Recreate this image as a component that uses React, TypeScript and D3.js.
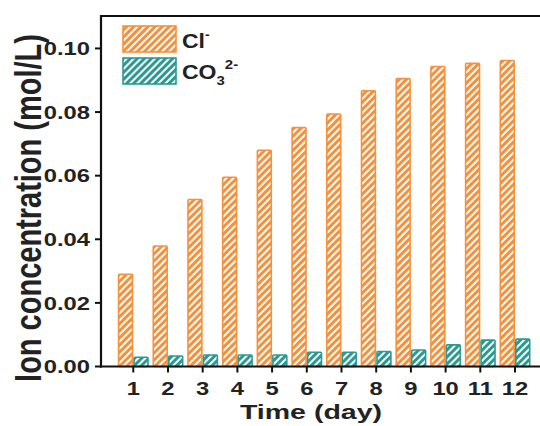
import { useRef, useEffect } from "react";
import * as d3 from "d3";

const days = [1, 2, 3, 4, 5, 6, 7, 8, 9, 10, 11, 12];
const chloride = [0.029, 0.0379, 0.0525, 0.0595, 0.068, 0.0751, 0.0794, 0.0867, 0.0905, 0.0943, 0.0953, 0.0962];
const carbonate = [0.0029, 0.0033, 0.0036, 0.0036, 0.0036, 0.0045, 0.0045, 0.0047, 0.0052, 0.0068, 0.0083, 0.0086];
const yTicks = [0, 0.02, 0.04, 0.06, 0.08, 0.1];

const ORANGE = "#f5913c";
const TEAL = "#2a9a93";

export default function App() {
  const svgRef = useRef<SVGSVGElement>(null);

  useEffect(() => {
    const svg = d3.select(svgRef.current);
    svg.selectAll("*").remove();

    const width = 540;
    const height = 426;
    const left = 101;
    const top = 16;
    const bottom = 366.5;
    const right = 540;
    const font = "Arial, 'Liberation Sans', sans-serif";
    const sx = 1.25; // the source figure is stretched sideways

    const x = d3.scaleLinear().domain([0.07, 12.72]).range([left, right]);
    const y = d3.scaleLinear().domain([0, 0.1102]).range([bottom, top]);
    const barW = 15.5;

    // hatch patterns
    const defs = svg.append("defs");
    [["hatchCl", ORANGE], ["hatchCO", TEAL]].forEach(([id, color]) => {
      const p = defs
        .append("pattern")
        .attr("id", id)
        .attr("patternUnits", "userSpaceOnUse")
        .attr("width", 5)
        .attr("height", 5)
        .attr("patternTransform", "rotate(45)");
      p.append("rect").attr("width", 5).attr("height", 5).attr("fill", color);
      p.append("rect").attr("x", 0).attr("width", 2).attr("height", 5).attr("fill", "#fff");
    });

    const series = [
      { id: "Cl", values: chloride, fill: "url(#hatchCl)", color: ORANGE, offset: -barW },
      { id: "CO", values: carbonate, fill: "url(#hatchCO)", color: TEAL, offset: 0 },
    ];

    series.forEach((s) => {
      svg
        .append("g")
        .selectAll("rect")
        .data(days)
        .join("rect")
        .attr("x", (d) => x(d) + s.offset + 0.8)
        .attr("y", (d, i) => y(s.values[i]))
        .attr("width", barW - 1.6)
        .attr("height", (d, i) => bottom - y(s.values[i]))
        .attr("fill", s.fill)
        .attr("stroke", s.color)
        .attr("stroke-width", 1.6)
        .attr("rx", 1);
    });

    // frame
    const frame = svg.append("g").attr("stroke", "#111").attr("stroke-width", 2.2).attr("fill", "none");
    frame.append("line").attr("x1", left).attr("x2", right).attr("y1", top).attr("y2", top);
    frame.append("line").attr("x1", left).attr("x2", left).attr("y1", top - 1).attr("y2", bottom + 1);
    frame.append("line").attr("x1", left - 1).attr("x2", right).attr("y1", bottom).attr("y2", bottom);

    // y ticks
    const yg = svg.append("g");
    yg.selectAll("line")
      .data(yTicks)
      .join("line")
      .attr("x1", left - 6)
      .attr("x2", left)
      .attr("y1", (d) => y(d))
      .attr("y2", (d) => y(d))
      .attr("stroke", "#111")
      .attr("stroke-width", 2);
    yg.selectAll("text")
      .data(yTicks)
      .join("text")
      .attr("transform", (d) => `translate(${left - 11},${y(d) + 6.7}) scale(${sx},1)`)
      .attr("text-anchor", "end")
      .attr("font-family", font)
      .attr("font-weight", "bold")
      .attr("font-size", 19)
      .attr("fill", "#222")
      .text((d) => d3.format(".2f")(d));

    // x ticks
    const xg = svg.append("g");
    xg.selectAll("line")
      .data(days)
      .join("line")
      .attr("x1", (d) => x(d))
      .attr("x2", (d) => x(d))
      .attr("y1", bottom)
      .attr("y2", bottom + 6)
      .attr("stroke", "#111")
      .attr("stroke-width", 2);
    xg.selectAll("text")
      .data(days)
      .join("text")
      .attr("transform", (d) => `translate(${x(d)},395) scale(${sx},1)`)
      .attr("text-anchor", "middle")
      .attr("font-family", font)
      .attr("font-weight", "bold")
      .attr("font-size", 19)
      .attr("fill", "#222")
      .text((d) => d);

    // axis titles
    svg
      .append("text")
      .attr("transform", `translate(311,418.5) scale(1.36,1)`)
      .attr("text-anchor", "middle")
      .attr("font-family", font)
      .attr("font-weight", "bold")
      .attr("font-size", 21)
      .attr("fill", "#222")
      .text("Time (day)");
    svg
      .append("text")
      .attr("transform", `translate(41,208) scale(1.28,1) rotate(-90)`)
      .attr("text-anchor", "middle")
      .attr("font-family", font)
      .attr("font-weight", "bold")
      .attr("font-size", 29)
      .attr("fill", "#222")
      .text("Ion concentration (mol/L)");

    // legend
    const lg = svg.append("g").attr("font-family", font).attr("font-weight", "bold").attr("fill", "#222");
    lg.append("rect").attr("x", 123).attr("y", 26).attr("width", 53).attr("height", 26)
      .attr("fill", "url(#hatchCl)").attr("stroke", ORANGE).attr("stroke-width", 1.6);
    lg.append("rect").attr("x", 123).attr("y", 58).attr("width", 53).attr("height", 26)
      .attr("fill", "url(#hatchCO)").attr("stroke", TEAL).attr("stroke-width", 1.6);
    const t1 = lg.append("text").attr("transform", "translate(182,48) scale(1.15,1)").attr("font-size", 20);
    t1.append("tspan").text("Cl");
    t1.append("tspan").attr("font-size", 12).attr("dy", -9).text("-");
    const t2 = lg.append("text").attr("transform", "translate(182,79) scale(1.15,1)").attr("font-size", 20);
    t2.append("tspan").text("CO");
    t2.append("tspan").attr("font-size", 13).attr("dy", 6).text("3");
    t2.append("tspan").attr("font-size", 13).attr("dy", -16).text("2-");

    svg.attr("width", width).attr("height", height);
  }, []);

  return (
    <div style={{ position: "absolute", left: 0, top: 0 }}>
      <svg ref={svgRef} width={540} height={426} style={{ display: "block", background: "#fff" }} />
    </div>
  );
}
